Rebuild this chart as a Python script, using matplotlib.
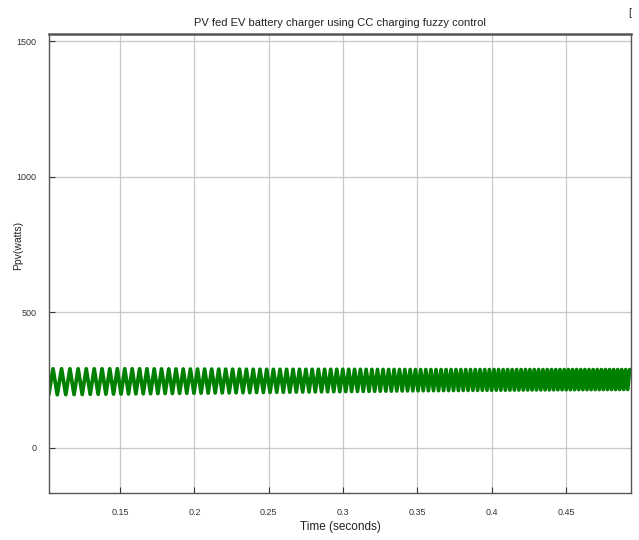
import matplotlib
matplotlib.use("Agg")
import matplotlib.pyplot as plt
import numpy as np

# Envelope of the PV power ripple (W) at sampled times (s)
env_time = [0.102, 0.15, 0.2, 0.25, 0.3, 0.35, 0.4, 0.45, 0.494]
env_upper = [292, 292, 291, 290, 290, 289, 289, 289, 289]
env_lower = [196, 199, 202, 205, 208, 211, 213, 215, 216]

# Ripple period (s) measured along the trace
period_time = [0.102, 0.15, 0.2, 0.25, 0.3, 0.35, 0.4, 0.45, 0.494]
period_val = [0.0058, 0.0050, 0.0048, 0.0045, 0.0040, 0.0035, 0.0031, 0.0028, 0.0027]

x_ticks = [0.15, 0.2, 0.25, 0.3, 0.35, 0.4, 0.45]
x_tick_labels = ["0.15", "0.2", "0.25", "0.3", "0.35", "0.4", "0.45"]
y_ticks = [0, 500, 1000, 1500]
y_tick_labels = ["0", "500", "1000", "1500"]

title_text = "PV fed EV battery charger using CC charging fuzzy control"
x_label = "Time (seconds)"
y_label = "Ppv(watts)"

# Turning points of the ripple: alternate trough / crest every half period
t_pts, p_pts = [], []
t = env_time[0]
hi = False
while t <= env_time[-1]:
    t_pts.append(t)
    if hi:
        p_pts.append(np.interp(t, env_time, env_upper))
    else:
        p_pts.append(np.interp(t, env_time, env_lower))
    hi = not hi
    t += np.interp(t, period_time, period_val) / 2.0

fam = ["Liberation Sans", "DejaVu Sans"]

fig = plt.figure(figsize=(6.39, 5.40), dpi=100)
ax = fig.add_axes([0.0767, 0.087, 0.9108, 0.850])

ax.plot(t_pts, p_pts, color="#008000", linewidth=2.7,
        solid_joinstyle="round", solid_capstyle="round")

ax.set_xlim(0.1022, 0.4937)
ax.set_ylim(-166, 1526)
ax.set_xticks(x_ticks)
ax.set_xticklabels(x_tick_labels, family=fam, fontsize=6.5, color="#333333")
ax.set_yticks(y_ticks)
ax.set_yticklabels(y_tick_labels, family=fam, fontsize=6.5, color="#333333")
ax.tick_params(direction="in", length=4, width=0.8, color="#333333", pad=9)
ax.tick_params(axis="x", pad=11)

ax.grid(True, color="#c8c8c8", linewidth=0.9)
ax.set_axisbelow(True)
for s in ax.spines.values():
    s.set_color("#555555")
    s.set_linewidth(1.0)
ax.spines["top"].set_linewidth(1.8)

ax.set_title(title_text, family=fam, fontsize=8, color="#222222", pad=6)
ax.set_xlabel(x_label, family=fam, fontsize=8.5, color="#222222", labelpad=3)
ax.set_ylabel(y_label, family=fam, fontsize=7.5, color="#222222")
ax.yaxis.set_label_coords(-0.045, 0.54)

fig.text(0.983, 0.975, "[", family=fam, fontsize=8, color="#333333",
         ha="left", va="center")

fig.savefig("out.png", dpi=100, facecolor="white")
